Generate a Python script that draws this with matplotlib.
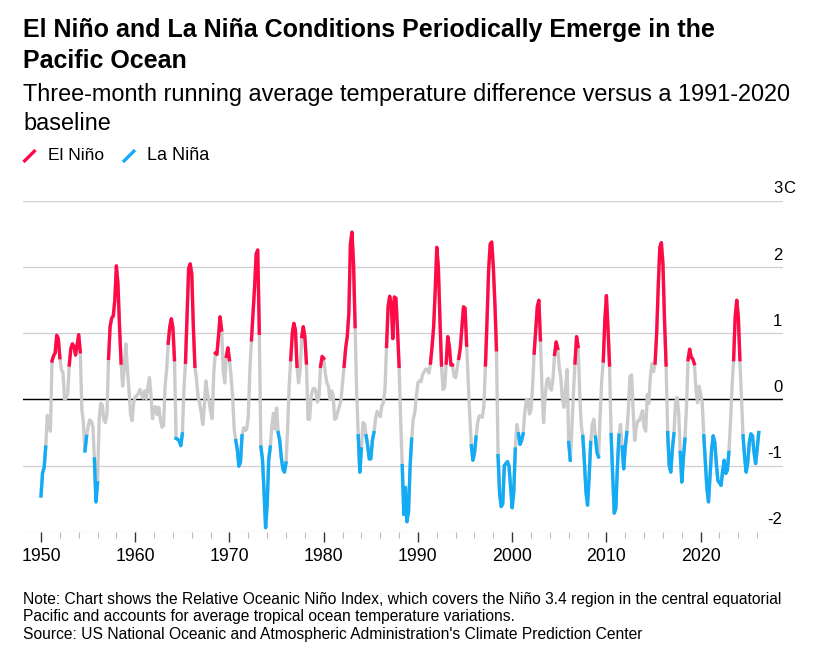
import numpy as np
import matplotlib
matplotlib.use("Agg")
import matplotlib.pyplot as plt
import matplotlib.transforms as mtransforms
from matplotlib.lines import Line2D

# Relative Oceanic Nino Index, every two months (Jan, Mar, May, Jul, Sep, Nov)
oni_1950s = [-1.46, -1.11, -1.03, -0.72, -0.24, -0.37,
             -0.48, 0.58, 0.66, 0.70, 0.97, 0.92,
             0.63, 0.45, 0.40, 0.00, 0.02, 0.08,
             0.52, 0.77, 0.84, 0.80, 0.67, 0.82,
             0.98, 0.72, -0.15, -0.35, -0.78, -0.56,
             -0.41, -0.31, -0.33, -0.40, -0.90, -1.55,
             -1.26, -0.32, -0.06, -0.08, -0.31, -0.35,
             -0.22, 0.62, 1.10, 1.23, 1.26, 1.50,
             2.02, 1.75, 1.10, 0.55, 0.20, 0.48,
             0.84, 0.46, 0.15, -0.22, -0.32, -0.05]
oni_1960s = [0.04, 0.06, 0.09, 0.15, 0.08, 0.02,
             0.13, 0.01, 0.17, 0.33, 0.08, -0.29,
             -0.12, -0.11, -0.23, -0.12, -0.30, -0.42,
             -0.40, 0.20, 0.45, 0.85, 1.10, 1.22,
             1.08, 0.60, -0.59, -0.60, -0.63, -0.70,
             -0.52, 0.15, 0.56, 1.25, 1.98, 2.05,
             1.90, 1.10, 0.50, 0.30, 0.05, -0.06,
             -0.20, -0.38, -0.10, 0.28, 0.08, -0.02,
             -0.18, -0.29, 0.40, 0.70, 0.68, 0.95,
             1.25, 1.05, 0.45, 0.25, 0.65, 0.78]
oni_1970s = [0.60, 0.35, 0.05, -0.45, -0.62, -0.76,
             -1.01, -0.95, -0.55, -0.43, -0.47, -0.45,
             -0.25, 0.45, 0.90, 1.30, 1.70, 2.20,
             2.26, 1.00, -0.72, -0.90, -1.38, -1.94,
             -1.60, -0.91, -0.72, -0.40, -0.21, -0.45,
             -0.13, -0.50, -0.62, -0.88, -1.05, -1.10,
             -0.96, -0.45, 0.20, 0.60, 1.00, 1.15,
             1.05, 0.50, 0.25, 0.45, 0.95, 1.10,
             0.95, 0.55, -0.30, -0.30, 0.05, 0.15,
             0.17, 0.12, -0.04, 0.05, 0.50, 0.65]
oni_1980s = [0.62, 0.40, 0.25, 0.20, 0.00, 0.13,
             0.05, -0.30, -0.28, -0.18, -0.11, -0.01,
             0.25, 0.50, 0.78, 0.95, 1.30, 2.35,
             2.53, 2.05, 1.10, 0.10, -0.55, -1.10,
             -0.75, -0.35, -0.37, -0.55, -0.70, -0.90,
             -0.90, -0.62, -0.50, -0.30, -0.18, -0.22,
             -0.26, -0.10, -0.05, 0.15, 0.80, 1.40,
             1.56, 1.45, 0.92, 1.55, 1.53, 1.05,
             0.50, -0.31, -1.00, -1.74, -1.33, -1.85,
             -1.70, -1.02, -0.60, -0.30, -0.20, 0.05]
oni_1990s = [0.25, 0.28, 0.27, 0.38, 0.42, 0.46,
             0.45, 0.40, 0.55, 0.80, 1.10, 1.65,
             2.30, 2.00, 1.22, 0.52, 0.15, 0.18,
             0.55, 0.95, 0.80, 0.52, 0.52, 0.35,
             0.33, 0.48, 0.62, 0.78, 1.10, 1.40,
             1.38, 0.82, 0.28, -0.25, -0.70, -0.92,
             -0.81, -0.57, -0.35, -0.25, -0.25, -0.27,
             -0.10, 0.52, 1.20, 1.95, 2.35, 2.38,
             2.00, 1.45, 0.75, -0.85, -1.42, -1.62,
             -1.58, -1.00, -0.97, -0.94, -1.01, -1.32]
oni_2000s = [-1.64, -1.40, -0.75, -0.38, -0.52, -0.68,
             -0.62, -0.52, -0.21, -0.01, 0.00, -0.22,
             -0.16, 0.20, 0.70, 1.05, 1.40, 1.50,
             0.90, 0.15, -0.35, 0.05, 0.28, 0.32,
             0.18, 0.14, 0.32, 0.68, 0.87, 0.77,
             0.48, 0.32, 0.00, -0.12, 0.18, 0.45,
             -0.65, -0.92, -0.45, 0.10, 0.55, 0.95,
             0.80, 0.10, -0.40, -0.56, -0.95, -1.40,
             -1.60, -1.18, -0.65, -0.38, -0.30, -0.57,
             -0.80, -0.87, -0.25, 0.28, 0.58, 1.20]
oni_2010s = [1.57, 1.08, 0.52, -0.53, -1.15, -1.72,
             -1.65, -1.02, -0.54, -0.38, -0.72, -1.05,
             -0.72, -0.50, -0.14, 0.35, 0.37, -0.15,
             -0.62, -0.42, -0.32, -0.32, -0.24, -0.17,
             -0.42, -0.48, 0.07, -0.06, 0.35, 0.54,
             0.42, 0.55, 1.00, 1.70, 2.30, 2.37,
             2.05, 1.20, 0.52, -0.50, -1.00, -1.10,
             -0.75, -0.52, -0.05, 0.03, -0.20, -0.80,
             -1.25, -0.90, -0.60, -0.10, 0.60, 0.76,
             0.64, 0.61, 0.54, 0.15, -0.05, 0.20]
oni_2020s = [0.08, -0.05, -0.55, -0.95, -1.35, -1.55,
             -1.15, -0.75, -0.55, -0.65, -0.97, -1.23,
             -1.26, -1.30, -1.08, -0.92, -1.12, -1.07,
             -0.80, -0.35, 0.20, 0.60, 1.25, 1.50,
             1.25, 0.60, 0.04, -0.55, -0.87, -1.10,
             -0.95, -0.65, -0.52, -0.55, -0.80, -0.97,
             -0.75, -0.50]

start_year = 1950
x_ticks = [1950, 1960, 1970, 1980, 1990, 2000, 2010, 2020]
y_ticks = [-2, -1, 0, 1, 2, 3]
y_labels = ["-2", "-1", "0", "1", "2", "3"]
y_unit = "C"

RED = "#ff0a47"
BLUE = "#12abf5"
GRAY = "#cbcbcb"
W, H = 835, 656


def episode_mask(values, cond, min_run=2):
    # points that belong to a run of at least min_run consecutive qualifying readings
    mask = np.zeros(len(values), dtype=bool)
    i = 0
    while i < len(values):
        if cond[i]:
            j = i
            while j < len(values) and cond[j]:
                j += 1
            if j - i >= min_run:
                mask[i:j] = True
            i = j
        else:
            i += 1
    return mask


def fig_text(fig, x_px, y_px, s, width_px=None, size=12, **kw):
    # place text at pixel position (baseline), optionally scaled to a target width
    t = fig.text(x_px / W, 1 - y_px / H, s, fontsize=size, va='baseline', **kw)
    if width_px is not None:
        w = t.get_window_extent(fig.canvas.get_renderer()).width
        t.set_fontsize(size * width_px / w)
    return t


oni = np.array(oni_1950s + oni_1960s + oni_1970s + oni_1980s +
               oni_1990s + oni_2000s + oni_2010s + oni_2020s)
years = start_year + np.arange(len(oni)) / 6.0

el_nino = np.where(episode_mask(oni, oni >= 0.5), oni, np.nan)
la_nina = np.where(episode_mask(oni, oni <= -0.5), oni, np.nan)

plt.rcParams['font.family'] = ['Liberation Sans', 'DejaVu Sans']

fig = plt.figure(figsize=(W / 100, H / 100), dpi=100)
ax_left, ax_width = 23, 760
ax = fig.add_axes([ax_left / W, 1 - 531.7 / H, ax_width / W, 330.7 / H])

for v in y_ticks:
    ax.axhline(v, color="#cfcfcf", linewidth=0.9, zorder=1)
ax.axhline(0, color="black", linewidth=1.0, zorder=2)

lw = 2.4
ax.plot(years, oni, color=GRAY, linewidth=lw, solid_joinstyle='round', zorder=3)
ax.plot(years, el_nino, color=RED, linewidth=lw, solid_joinstyle='round', zorder=4)
ax.plot(years, la_nina, color=BLUE, linewidth=lw, solid_joinstyle='round', zorder=4)

ax.set_xlim(1948.09, 2028.74)
ax.set_ylim(-2, 3)
for side in ["top", "right", "left", "bottom"]:
    ax.spines[side].set_visible(False)
ax.set_yticks([])
ax.set_xticks(x_ticks)
ax.set_xticklabels([str(t) for t in x_ticks], fontsize=12.8)
ax.set_xticks(np.arange(1952, 2028, 2), minor=True)
ax.tick_params(axis='x', which='major', length=7.5, width=1, color="#333333", pad=4)
ax.tick_params(axis='x', which='minor', length=4, width=0.8, color="#bbbbbb")

# value labels sit just above their gridlines, numbers right-aligned, unit after the top one
label_tr = mtransforms.offset_copy(
    mtransforms.blended_transform_factory(ax.transAxes, ax.transData),
    fig=fig, x=0, y=7.5, units='dots')
num_right = (782.5 - ax_left) / ax_width
for v, lab in zip(y_ticks, y_labels):
    ax.text(num_right, v, lab, transform=label_tr, ha='right', va='baseline', fontsize=12)
ax.text(num_right + 0.5 / ax_width, y_ticks[-1], y_unit, transform=label_tr,
        ha='left', va='baseline', fontsize=12)

# header
title = fig_text(fig, 23, 37.5, "El Niño and La Niña Conditions Periodically Emerge in the",
                 width_px=694, size=17, fontweight='bold')
fig_text(fig, 23, 68, "Pacific Ocean", size=title.get_fontsize(), fontweight='bold')
sub = fig_text(fig, 23, 101.5, "Three-month running average temperature difference versus a 1991-2020",
               width_px=767, size=16)
fig_text(fig, 23, 129.5, "baseline", size=sub.get_fontsize())

# legend
for x0, col in [(23.5, RED), (123, BLUE)]:
    fig.add_artist(Line2D([x0 / W, (x0 + 12) / W], [1 - 162 / H, 1 - 150 / H],
                          color=col, linewidth=2.4, solid_capstyle='butt'))
fig_text(fig, 48, 160.5, "El Niño", width_px=56, size=13)
fig_text(fig, 147, 160.5, "La Niña", size=13)

# footer
note = fig_text(fig, 23, 604,
                "Note: Chart shows the Relative Oceanic Niño Index, which covers the Niño 3.4 region in the central equatorial",
                width_px=756, size=11)
fig_text(fig, 23, 621.5, "Pacific and accounts for average tropical ocean temperature variations.",
         size=note.get_fontsize())
fig_text(fig, 23, 639.3,
         "Source: US National Oceanic and Atmospheric Administration's Climate Prediction Center",
         size=note.get_fontsize())

fig.savefig("out.png", dpi=100)
